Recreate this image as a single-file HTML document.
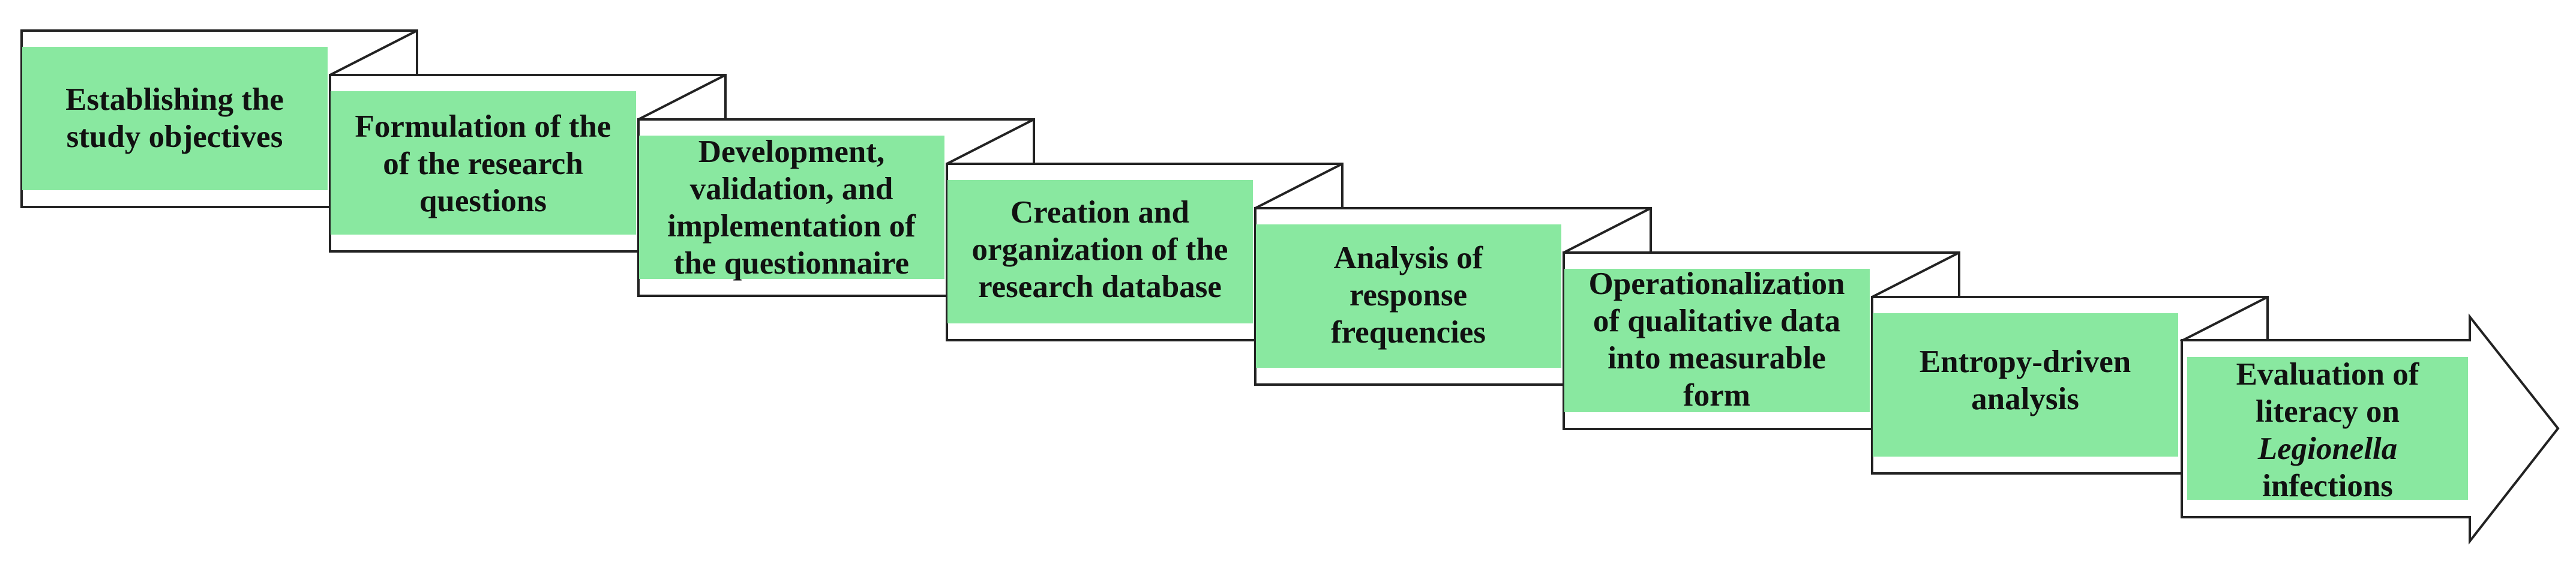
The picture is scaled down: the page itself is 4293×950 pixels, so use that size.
<!DOCTYPE html>
<html><head><meta charset="utf-8"><style>
html,body{margin:0;padding:0;background:#fff;}
svg{display:block;}
text{font-family:"Liberation Serif",serif;font-size:53px;font-weight:bold;fill:#111;}
</style></head><body>
<svg width="4293" height="950" viewBox="0 0 4293 950" xmlns="http://www.w3.org/2000/svg">
<g stroke="#222" stroke-width="4" fill="none">
<rect x="36" y="51" width="659" height="294" fill="#fff"/>
<rect x="37" y="78" width="509" height="239" fill="#89e8a0" stroke="none"/>
<line x1="550" y1="125" x2="695" y2="51"/><line x1="695" y1="51" x2="695" y2="125"/>
<rect x="550" y="125" width="659" height="294" fill="#fff"/>
<rect x="551" y="152" width="509" height="239" fill="#89e8a0" stroke="none"/>
<line x1="1064" y1="199" x2="1209" y2="125"/><line x1="1209" y1="125" x2="1209" y2="199"/>
<rect x="1064" y="199" width="659" height="294" fill="#fff"/>
<rect x="1065" y="226" width="509" height="239" fill="#89e8a0" stroke="none"/>
<line x1="1578" y1="273" x2="1723" y2="199"/><line x1="1723" y1="199" x2="1723" y2="273"/>
<rect x="1578" y="273" width="659" height="294" fill="#fff"/>
<rect x="1579" y="300" width="509" height="239" fill="#89e8a0" stroke="none"/>
<line x1="2092" y1="347" x2="2237" y2="273"/><line x1="2237" y1="273" x2="2237" y2="347"/>
<rect x="2092" y="347" width="659" height="294" fill="#fff"/>
<rect x="2093" y="374" width="509" height="239" fill="#89e8a0" stroke="none"/>
<line x1="2606" y1="421" x2="2751" y2="347"/><line x1="2751" y1="347" x2="2751" y2="421"/>
<rect x="2606" y="421" width="659" height="294" fill="#fff"/>
<rect x="2607" y="448" width="509" height="239" fill="#89e8a0" stroke="none"/>
<line x1="3120" y1="495" x2="3265" y2="421"/><line x1="3265" y1="421" x2="3265" y2="495"/>
<rect x="3120" y="495" width="659" height="294" fill="#fff"/>
<rect x="3121" y="522" width="509" height="239" fill="#89e8a0" stroke="none"/>
<line x1="3634" y1="569" x2="3779" y2="495"/><line x1="3779" y1="495" x2="3779" y2="569"/>
<polygon points="3636,567 4116,567 4116,528 4263,714 4116,902 4116,862 3636,862" fill="#fff"/>
<rect x="3645" y="595" width="468" height="238" fill="#89e8a0" stroke="none"/>
</g>
<g text-anchor="middle">
<text x="291" y="183">Establishing the</text>
<text x="291" y="245">study objectives</text>

<text x="805" y="228">Formulation of the</text>
<text x="805" y="290">of the research</text>
<text x="805" y="352">questions</text>

<text x="1319" y="270">Development,</text>
<text x="1319" y="332">validation, and</text>
<text x="1319" y="394">implementation of</text>
<text x="1319" y="456">the questionnaire</text>

<text x="1833" y="371">Creation and</text>
<text x="1833" y="433">organization of the</text>
<text x="1833" y="495">research database</text>

<text x="2347" y="447">Analysis of</text>
<text x="2347" y="509">response</text>
<text x="2347" y="571">frequencies</text>

<text x="2861" y="490">Operationalization</text>
<text x="2861" y="552">of qualitative data</text>
<text x="2861" y="614">into measurable</text>
<text x="2861" y="676">form</text>

<text x="3375" y="620">Entropy-driven</text>
<text x="3375" y="682">analysis</text>

<text x="3879" y="641">Evaluation of</text>
<text x="3879" y="703">literacy on</text>
<text x="3879" y="765" font-style="italic">Legionella</text>
<text x="3879" y="827">infections</text>
</g>
</svg>
</body></html>
